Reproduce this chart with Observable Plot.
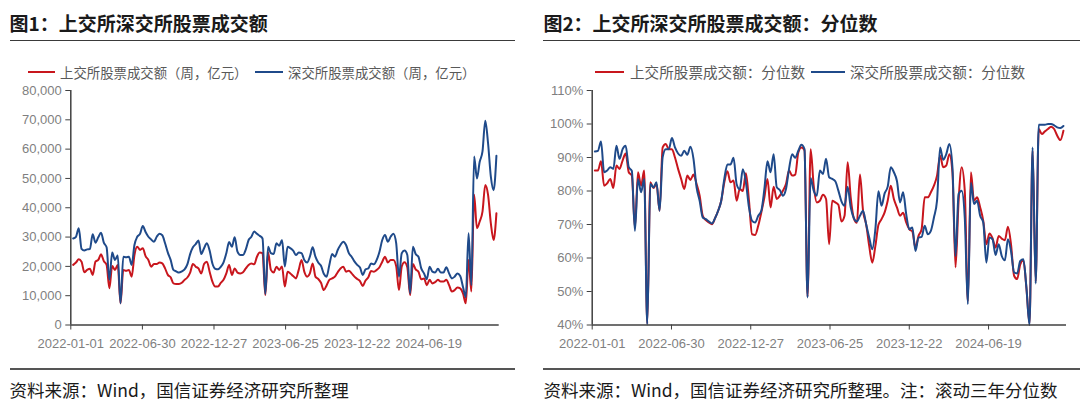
<!DOCTYPE html>
<html><head><meta charset="utf-8">
<script src="https://cdn.jsdelivr.net/npm/d3@7"></script>
<script src="https://cdn.jsdelivr.net/npm/@observablehq/plot@0.6"></script>
<style>
body{margin:0;background:#fff;}
#root{position:relative;width:1080px;height:403px;overflow:hidden;background:#fff;font-family:"Noto Sans CJK SC","Noto Sans",sans-serif;}
.abs{position:absolute;white-space:nowrap;}
.title{font-size:19px;font-weight:700;color:#1a1a1a;line-height:19px;}
.rule{position:absolute;height:1.5px;background:#3a3a3a;}
.leg{font-size:14px;color:#595959;line-height:14px;}
.sw{position:absolute;height:2px;}
.src{font-size:17.5px;color:#1a1a1a;line-height:17.5px;}
.chart{position:absolute;top:80px;}
.chart text{fill:#7f7f7f;}
</style></head><body><div id="root"></div>
<script>
// ---- data (weekly, first week ending 2022-01-07) ----
const firstWeek = "2022-01-07";
const axisStart = "2022-01-01";
const xTickLabels = ["2022-01-01","2022-06-30","2022-12-27","2023-06-25","2023-12-22","2024-06-19"];
const yTicks1 = [0,10000,20000,30000,40000,50000,60000,70000,80000];
const yTicks2 = [40,50,60,70,80,90,100,110];

// 上交所股票成交额（周，亿元）
const shAmt = [20500,21300,22400,21600,18000,18800,19200,17100,21600,22200,24100,21800,20500,12500,20100,18800,20500,7400,18800,18500,
18800,16500,23900,26700,25600,26200,23500,22200,19900,20800,20800,21300,21000,19300,17100,16300,14200,14000,14000,14400,
15400,16200,17900,20800,19900,19300,17600,20800,21600,18200,14800,13100,13100,14400,15400,17600,20500,17100,19300,17900,
17600,18000,19300,20500,21000,20700,23300,24700,24500,10200,24800,18800,17900,19900,18800,20000,13100,18200,17600,16700,
15900,18800,22200,18200,16500,17600,21000,16500,15700,14400,11900,13500,15400,15900,16500,18000,19300,19900,18200,18500,
17600,16500,15700,15000,13300,15200,16300,18400,18200,18800,19700,21600,23300,21300,22200,22200,20100,11900,20000,21400,
19700,10200,20800,19000,18200,15600,15900,13600,15400,14200,14600,15400,14800,14800,15400,13600,11400,11900,12800,12500,
10800,7400,22200,11400,44400,33000,35300,38700,47800,44400,34700,29000,38100];
// 深交所股票成交额（周，亿元）
const szAmt = [29500,30100,33000,26000,25400,25800,25900,31000,28100,29900,31500,28100,26500,15400,24700,22200,23700,7400,23300,23100,
23300,20500,27300,30100,31100,33800,31700,30100,29200,28400,30100,31100,30600,27900,24700,22200,18800,18300,17900,18300,
19000,20700,24200,26500,27600,28800,24200,26200,27900,25400,21000,19200,19000,19800,21400,24500,28300,26700,29900,25000,
23900,23900,25800,29000,30100,31900,31100,30400,29500,10600,26700,24500,24200,27900,27000,29000,20000,26700,26200,25400,
23900,24700,24500,22200,21300,23300,26500,23300,21300,20200,17500,16500,20500,24200,23300,25600,27300,28400,27300,24500,
23300,21700,20500,19600,17100,19000,19300,21000,20700,22200,25000,29000,30700,28400,30100,31100,27900,16500,24500,25400,
23900,10800,26700,24200,23300,19300,17600,15600,19900,18200,17900,19200,17900,17900,19700,17600,15900,16500,17600,16700,
13000,9500,31300,13600,57500,50000,55700,59200,69700,62000,50600,46000,57700];
// 上交所股票成交额：分位数（%）
const shPct = [86.1,86.1,88.9,81.6,82.3,83.6,80.9,87.6,86.6,89.1,91.2,85.6,84.6,69.0,85.6,81.6,86.1,40.5,82.6,80.9,
82.1,74.1,93.0,94.0,92.5,92.5,90.0,86.6,83.6,80.6,84.6,83.3,84.9,82.1,78.6,72.6,71.3,70.6,70.1,71.9,
74.1,77.1,82.6,85.9,82.6,83.1,77.1,80.6,80.0,85.3,77.1,67.1,66.9,69.6,73.6,78.1,83.6,75.1,81.3,77.6,
78.6,80.1,82.1,86.1,84.6,84.9,91.5,93.0,92.2,48.5,92.5,81.6,76.6,77.1,78.9,77.6,64.1,77.1,76.6,75.9,
70.9,72.6,88.6,78.1,71.9,70.5,84.9,74.1,70.1,63.6,58.6,63.6,69.9,71.6,73.6,77.1,81.6,77.6,75.1,72.6,
73.5,70.6,68.6,67.9,63.1,66.6,68.6,78.1,78.1,79.6,81.6,84.6,90.5,87.1,87.6,91.0,85.6,57.2,77.1,87.1,
80.1,47.0,85.6,77.1,78.1,75.1,71.1,64.1,67.3,65.9,63.1,66.6,65.8,65.3,69.3,64.1,54.7,53.7,58.1,59.3,
51.0,40.5,92.0,53.0,98.5,97.0,97.8,98.5,99.2,98.5,96.5,95.2,98.0];
// 深交所股票成交额：分位数（%）
const szPct = [91.8,92.0,94.8,85.6,86.1,87.1,86.6,93.5,89.6,92.5,93.5,87.1,86.0,68.1,83.6,79.6,83.6,40.2,82.1,81.1,
82.6,74.1,90.1,92.5,92.5,95.8,93.0,91.2,90.5,92.0,90.8,93.2,89.6,81.1,77.1,72.1,71.6,70.9,70.3,71.9,
74.1,77.1,83.6,87.9,87.9,89.9,82.0,80.5,86.5,82.6,75.1,71.1,70.6,72.6,74.1,80.6,88.9,85.6,91.0,81.1,
80.3,78.6,80.6,86.6,91.0,89.9,92.0,93.8,92.5,48.2,83.9,80.1,78.6,86.1,85.1,89.6,84.1,83.6,82.9,80.1,
76.9,75.6,81.3,75.1,71.9,70.9,72.6,74.1,70.1,66.1,62.6,68.6,79.9,75.6,79.3,81.3,87.1,85.6,83.0,76.6,
79.6,73.1,68.6,69.1,62.1,66.1,66.3,69.6,67.1,68.1,72.1,77.1,93.0,89.3,91.0,94.0,87.1,60.5,79.1,80.1,
72.0,46.2,82.5,76.1,77.1,72.6,70.6,58.6,66.1,65.6,60.9,64.1,60.6,59.3,65.6,62.1,55.7,55.4,59.1,59.6,
51.2,40.0,93.0,52.4,99.8,99.8,99.8,100,100,99.6,99.0,98.8,99.4];

const RED = "#c8161d", BLUE = "#1f4a8a";
const DAY = 864e5;
const t0 = new Date(firstWeek + "T00:00:00Z").getTime();
const x0 = new Date(axisStart + "T00:00:00Z");
const x1 = new Date(x0.getTime() + 1077 * DAY);
const xTickDates = xTickLabels.map(s => new Date(s + "T00:00:00Z"));

const root = document.getElementById("root");
function el(cls, css, html) {
  const d = document.createElement("div");
  d.className = cls; Object.assign(d.style, css); if (html != null) d.innerHTML = html;
  root.appendChild(d); return d;
}

function makeChart({left, width, marginLeft, marginRight, yDomain, yTicks, yFormat, sh, sz}) {
  const data = sh.map((v, i) => ({date: new Date(t0 + i * 7 * DAY), sh: v, sz: sz[i]}));
  const svg = Plot.plot({
    width, height: 275, marginLeft, marginRight, marginTop: 10, marginBottom: 30.5,
    style: {fontFamily: "'Liberation Sans', Arial, sans-serif", fontSize: "13px", background: "transparent", overflow: "visible"},
    x: {type: "utc", domain: [x0, x1], label: null},
    y: {domain: yDomain, label: null},
    marks: [
      Plot.axisY({ticks: yTicks, tickFormat: yFormat, tickSize: 5, tickPadding: 4, stroke: "#404040", label: null}),
      Plot.axisX({ticks: xTickDates, tickFormat: d3.utcFormat("%Y-%m-%d"), tickSize: 5, tickPadding: 9, stroke: "#404040", label: null}),
      Plot.lineY(data, {x: "date", y: "sh", stroke: RED, strokeWidth: 2, curve: "monotone-x"}),
      Plot.lineY(data, {x: "date", y: "sz", stroke: BLUE, strokeWidth: 2, curve: "monotone-x"}),
      Plot.ruleX([x0], {stroke: "#404040", strokeWidth: 1.5}),
      Plot.ruleY([yDomain[0]], {stroke: "#404040", strokeWidth: 1.5})
    ]
  });
  const wrap = el("chart", {left: left + "px", width: width + "px", height: "275px"});
  wrap.appendChild(svg);
}

// ---- panel 1 ----
el("abs title", {left: "9.6px", top: "13px"}, "图1：上交所深交所股票成交额");
el("rule", {left: "9.6px", top: "39.5px", width: "505.4px"});
el("sw", {left: "27.5px", top: "71.3px", width: "27.5px", background: RED});
el("abs leg", {left: "60px", top: "65.3px", fontSize: "13.4px"}, "上交所股票成交额（周，亿元）");
el("sw", {left: "255px", top: "71.3px", width: "27.5px", background: BLUE});
el("abs leg", {left: "288px", top: "65.3px", fontSize: "13.4px"}, "深交所股票成交额（周，亿元）");
makeChart({left: 0, width: 540, marginLeft: 70.3, marginRight: 41.3, yDomain: [0, 80000], yTicks: yTicks1, yFormat: d3.format(","), sh: shAmt, sz: szAmt});
el("rule", {left: "9.6px", top: "368.3px", width: "505.4px", background: "#555"});
el("abs src", {left: "9.6px", top: "380.5px"}, "资料来源：Wind，国信证券经济研究所整理");

// ---- panel 2 ----
el("abs title", {left: "543.4px", top: "13px"}, "图2：上交所深交所股票成交额：分位数");
el("rule", {left: "543.4px", top: "39.5px", width: "536.6px"});
el("sw", {left: "595px", top: "71.3px", width: "29px", background: RED});
el("abs leg", {left: "630px", top: "65.3px", fontSize: "14.6px"}, "上交所股票成交额：分位数");
el("sw", {left: "811px", top: "71.3px", width: "34px", background: BLUE});
el("abs leg", {left: "850px", top: "65.3px", fontSize: "14.6px"}, "深交所股票成交额：分位数");
makeChart({left: 540, width: 540, marginLeft: 51.7, marginRight: 14, yDomain: [40, 110], yTicks: yTicks2, yFormat: d => d + "%", sh: shPct, sz: szPct});
el("rule", {left: "543.4px", top: "368.3px", width: "536.6px", background: "#555"});
el("abs src", {left: "543.4px", top: "380.5px"}, "资料来源：Wind，国信证券经济研究所整理。注：滚动三年分位数");
</script></body></html>
